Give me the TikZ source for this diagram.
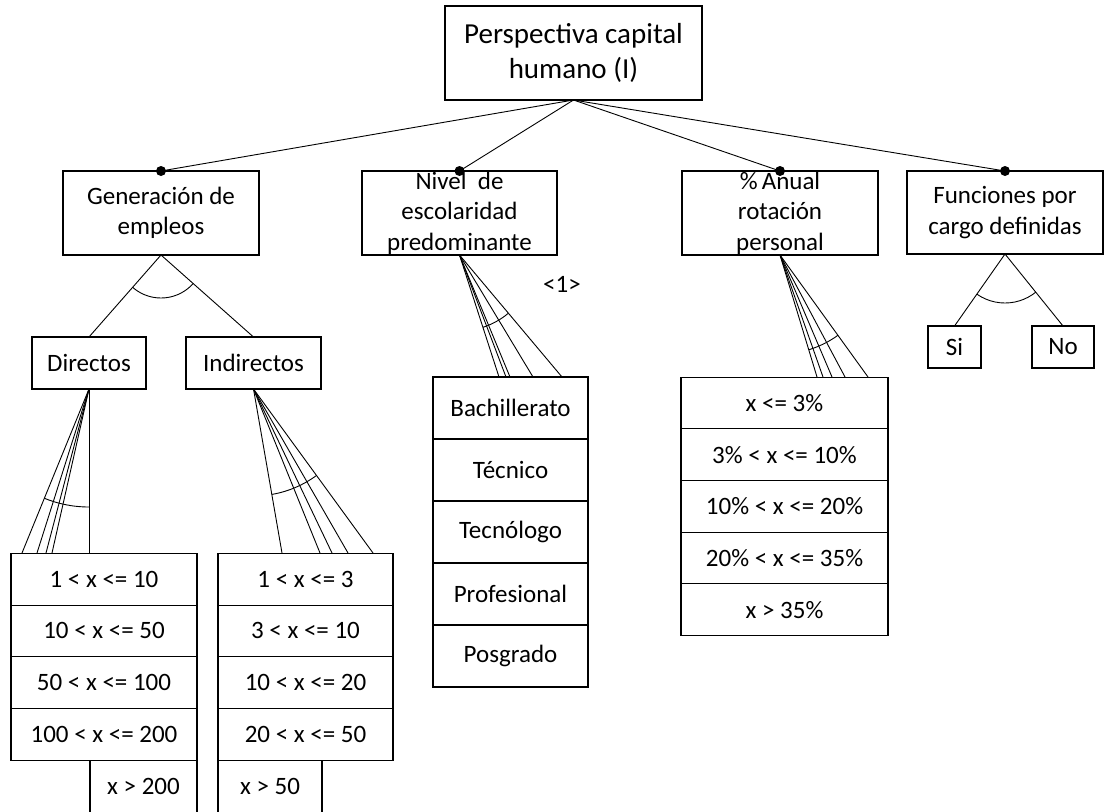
\documentclass[tikz,border=0pt]{standalone}
\usepackage{fontspec}
\setmainfont{Carlito}
\usetikzlibrary{calc}

\begin{document}
\begin{tikzpicture}[x=1pt,y=-1pt,
  every node/.style={font=\fontsize{25}{30.5}\selectfont, inner sep=0pt, outer sep=0pt, align=center},
  box/.style={draw, line width=1.1pt, rectangle},
  topbox/.style={box, minimum width=196pt, minimum height=84pt},
  cellD/.style={box, minimum width=186pt, minimum height=51.7pt},
  cellI/.style={box, minimum width=175pt, minimum height=51.7pt},
  cellN/.style={box, minimum width=155pt, minimum height=62pt},
  cellA/.style={box, minimum width=207pt, minimum height=51.7pt},
  link/.style={line width=0.9pt},
  dot/.style={fill, radius=5pt}
]
\path[use as bounding box] (0,0) rectangle (1105,811);
\clip (0,0) rectangle (1105,811);

% root
\node[box, minimum width=257pt, minimum height=94pt, font=\fontsize{29}{35}\selectfont]
  (root) at (573.5,53) {Perspectiva capital\\humano (I)};

% first level
\node[topbox] (gen) at (161,213) {Generación de\\empleos};
\node[topbox, minimum width=195pt] (niv) at (459.5,213) {Nivel\ \ de\\escolaridad\\predominante};
\node[topbox] (anu) at (780,213) {\%\,Anual\\rotación\\personal};
\node[topbox, minimum height=83pt] (fun) at (1005,212.5) {Funciones por\\cargo definidas};

\foreach \n in {gen,niv,anu,fun}{
  \draw[link] (root.south) -- (\n.north);
  \fill[dot] (\n.north) circle;
}

% Generacion de empleos
\node[box, minimum width=114pt, minimum height=52pt] (dir) at (89,363) {Directos};
\node[box, minimum width=135pt, minimum height=52pt] (ind) at (253.5,363) {Indirectos};
\draw[link] (gen.south) -- (dir.north);
\draw[link] (gen.south) -- (ind.north);
\begin{scope}
  \clip (gen.south) -- (dir.north) -- (ind.north) -- cycle;
  \draw[link] (gen.south) circle (43pt);
\end{scope}

% Directos ranges
\node[cellD] (d1) at (104,579.2) {1 < x <= 10};
\node[cellD, anchor=north] (d2) at (d1.south) {10 < x <= 50};
\node[cellD, anchor=north] (d3) at (d2.south) {50 < x <= 100};
\node[cellD, anchor=north] (d4) at (d3.south) {100 < x <= 200};
\node[minimum width=107pt, minimum height=51.7pt, anchor=north east] (d5) at (d4.south east) {x > 200};
\draw[line width=1.1pt] (d5.north west) -- ++(0,60) (d5.north east) -- ++(0,60);

\coordinate (dA) at (22,553);
\coordinate (dB) at (37,553);
\coordinate (dC) at (46,553);
\coordinate (dD) at (52,553);
\coordinate (dE) at (89,553);
\foreach \c in {dA,dB,dC,dD,dE} \draw[link] (dir.south) -- (\c);
\begin{scope}
  \clip (dir.south) -- (dA) -- (dE) -- cycle;
  \draw[link] (dir.south) circle (118pt);
\end{scope}

% Indirectos ranges
\node[cellI] (e1) at (305.5,579.2) {1 < x <= 3};
\node[cellI, anchor=north] (e2) at (e1.south) {3 < x <= 10};
\node[cellI, anchor=north] (e3) at (e2.south) {10 < x <= 20};
\node[cellI, anchor=north] (e4) at (e3.south) {20 < x <= 50};
\node[minimum width=104pt, minimum height=51.7pt, anchor=north west] (e5) at (e4.south west) {x > 50};
\draw[line width=1.1pt] (e5.north west) -- ++(0,60) (e5.north east) -- ++(0,60);

\coordinate (eA) at (282,553);
\coordinate (eB) at (320,553);
\coordinate (eC) at (332,553);
\coordinate (eD) at (348,553);
\coordinate (eE) at (373,553);
\foreach \c in {eA,eB,eC,eD,eE} \draw[link] (ind.south) -- (\c);
\begin{scope}
  \clip (ind.south) -- (eA) -- (eE) -- cycle;
  \draw[link] (ind.south) circle (107pt);
\end{scope}

% Nivel de escolaridad
\node[cellN] (n1) at (510.5,408) {Bachillerato};
\node[cellN, anchor=north] (n2) at (n1.south) {Técnico};
\node[cellN, anchor=north] (n3) at (n2.south) {Tecnólogo};
\node[cellN, anchor=north] (n4) at (n3.south) {Profesional};
\node[cellN, anchor=north] (n5) at (n4.south) {Posgrado};

\coordinate (nA) at (499,377);
\coordinate (nB) at (506,377);
\coordinate (nC) at (510,377);
\coordinate (nD) at (533,377);
\coordinate (nE) at (562,377);
\foreach \c in {nA,nB,nC,nD,nE} \draw[link] (niv.south) -- (\c);
\begin{scope}
  \clip (niv.south) -- (nA) -- (nE) -- cycle;
  \draw[link] (niv.south) circle (76pt);
\end{scope}
\node (tag) at (562,284) {<1>};

% Rotacion de personal
\node[cellA] (a1) at (784.5,402.9) {x <= 3\%};
\node[cellA, anchor=north] (a2) at (a1.south) {3\% < x <= 10\%};
\node[cellA, anchor=north] (a3) at (a2.south) {10\% < x <= 20\%};
\node[cellA, anchor=north] (a4) at (a3.south) {20\% < x <= 35\%};
\node[cellA, anchor=north] (a5) at (a4.south) {x > 35\%};

\coordinate (aA) at (817,377);
\coordinate (aB) at (823,377);
\coordinate (aC) at (832,377);
\coordinate (aD) at (845,377);
\coordinate (aE) at (868,377);
\foreach \c in {aA,aB,aC,aD,aE} \draw[link] (anu.south) -- (\c);
\begin{scope}
  \clip (anu.south) -- (aA) -- (aE) -- cycle;
  \draw[link] (anu.south) circle (99pt);
\end{scope}

% Funciones por cargo
\node[box, minimum width=53pt, minimum height=42pt] (si) at (954.5,347) {Si};
\node[box, minimum width=62pt, minimum height=42pt] (no) at (1063,347) {No};
\draw[link] (fun.south) -- (si.north);
\draw[link] (fun.south) -- (no.north);
\begin{scope}
  \clip (fun.south) -- (si.north) -- (no.north) -- cycle;
  \draw[link] (fun.south) circle (49pt);
\end{scope}
\end{tikzpicture}
\end{document}
